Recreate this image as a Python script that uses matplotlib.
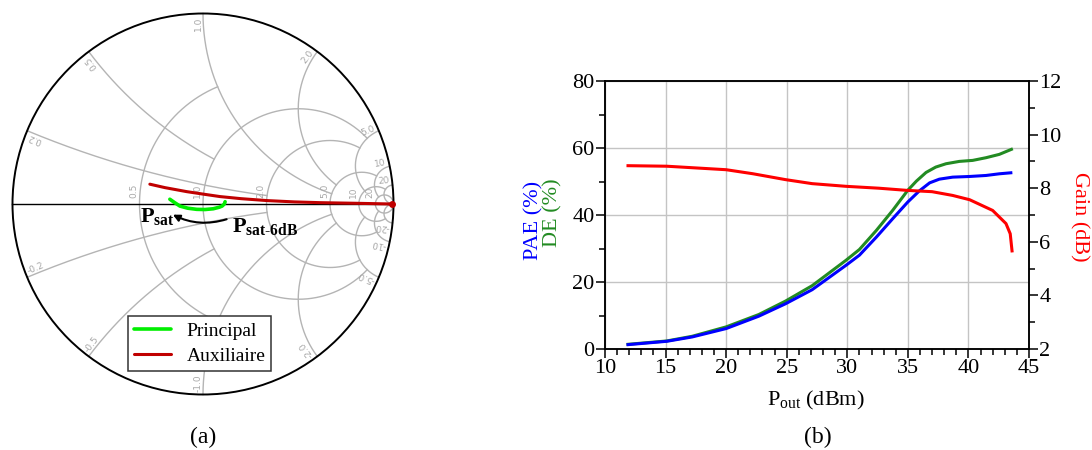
import numpy as np
import matplotlib.pyplot as plt
from matplotlib.patches import Circle, FancyArrowPatch
from matplotlib.ticker import MultipleLocator

plt.rcParams['font.family'] = ['Liberation Serif', 'DejaVu Serif']
plt.rcParams['mathtext.fontset'] = 'custom'
plt.rcParams['mathtext.rm'] = 'Liberation Serif'
plt.rcParams['mathtext.bf'] = 'Liberation Serif:bold'
plt.rcParams['mathtext.it'] = 'Liberation Serif:italic'

# ---- (b) power sweep ----
pout_gain = [11.9, 15.1, 20.0, 22.2, 24.9, 27.1, 29.9, 32.6, 34.9, 37.0,
             38.7, 40.1, 42.0, 43.1, 43.45, 43.6]
gain = [8.84, 8.82, 8.69, 8.54, 8.32, 8.17, 8.07, 8.00, 7.92, 7.87,
        7.73, 7.57, 7.17, 6.68, 6.30, 5.66]

pout_de = [11.9, 15.1, 17.2, 20.0, 22.7, 24.9, 27.1, 29.9, 31.0, 32.4,
           33.75, 35.0, 35.7, 36.5, 37.3, 38.15, 39.25, 40.35, 41.45, 42.55, 43.55]
de = [1.4, 2.4, 3.8, 6.6, 10.3, 14.3, 18.9, 26.5, 29.7, 35.4,
      41.4, 47.4, 50.1, 52.7, 54.3, 55.3, 56.0, 56.3, 57.1, 58.1, 59.6]

pout_pae = [11.9, 15.1, 17.2, 20.0, 22.7, 24.9, 27.1, 29.9, 31.0, 32.4,
            33.75, 35.0, 35.95, 36.8, 37.6, 38.7, 40.1, 41.45, 42.55, 43.5]
pae = [1.3, 2.3, 3.6, 6.1, 9.8, 13.5, 17.7, 25.0, 28.0, 33.4,
       38.9, 43.9, 47.2, 49.6, 50.7, 51.3, 51.5, 51.8, 52.3, 52.6]

# ---- (a) load trajectories (reflection coefficient) ----
principal_re = [-0.174, -0.150, -0.121, -0.080, -0.033, 0.010, 0.054, 0.085, 0.100, 0.112, 0.116]
principal_im = [0.025, 0.008, -0.011, -0.022, -0.028, -0.029, -0.025, -0.017, -0.011, 0.000, 0.012]
aux_re = [-0.279, -0.200, -0.086, 0.000, 0.089, 0.200, 0.335, 0.480, 0.616, 0.790, 0.993]
aux_im = [0.104, 0.086, 0.065, 0.052, 0.039, 0.028, 0.018, 0.011, 0.007, 0.004, 0.000]

res_circles = [0.5, 1.0, 2.0, 5.0, 10, 20]
res_limits = [1, 5, 5, 10, 20, np.inf]
res_labels = ['0.5', '1.0', '2.0', '5.0', '10', '20']
reac_arcs = [0.2, 0.5, 1.0, 2.0, 5.0, 10, 20]
reac_limits = [2, 1, 5, 5, 10, 20, np.inf]
reac_labels = ['0.2', '0.5', '1.0', '2.0', '5.0', '10', '20']

GRID = '#b4b4b4'


def gamma(z):
    return (z - 1) / (z + 1)


fig = plt.figure(figsize=(10.92, 4.5), dpi=100)

# ================= Smith chart =================
sax = fig.add_axes([8 / 1092, 1 - 399 / 450, 390 / 1092, 390 / 450])
lim = 195 / 190.5
sax.set_xlim(-lim, lim)
sax.set_ylim(-lim, lim)
sax.axis('off')

for r, xm in zip(res_circles, res_limits):
    umax = np.arctan(xm / (r + 1)) if np.isfinite(xm) else np.pi / 2 - 1e-4
    u = np.linspace(-umax, umax, 800)
    g = gamma(r + 1j * (r + 1) * np.tan(u))
    sax.plot(g.real, g.imag, color=GRID, lw=1.0, zorder=1)

for x, rm in zip(reac_arcs, reac_limits):
    k = abs(x) + 1
    umax = np.arctan(rm / k) if np.isfinite(rm) else np.pi / 2 - 1e-4
    u = np.linspace(0, umax, 800)
    for s in (1, -1):
        g = gamma(k * np.tan(u) + 1j * s * x)
        sax.plot(g.real, g.imag, color=GRID, lw=1.0, zorder=1)

for r, lab in zip(res_circles, res_labels):
    gx = gamma(r)
    sax.text(gx - 0.006, 0.03, lab, rotation=90, rotation_mode='anchor',
             ha='left', va='bottom', fontsize=6.5, color='#a8a8a8',
             family='DejaVu Sans')

for x, lab in zip(reac_arcs, reac_labels):
    for s in (1, -1):
        g = gamma(1j * s * x)
        th = np.degrees(np.arctan2(g.imag, g.real))
        rot = th % 180
        p = 0.985 * g
        sax.text(p.real, p.imag, lab if s > 0 else '-' + lab, rotation=rot,
                 rotation_mode='anchor', ha='right' if s > 0 else 'left',
                 va='bottom', fontsize=6.5, color='#a8a8a8', family='DejaVu Sans')

sax.add_patch(Circle((0, 0), 1, fill=False, ec='black', lw=1.4, zorder=3))
sax.plot([-1, 1], [0, 0], color='black', lw=1.0, zorder=2)

sax.plot(principal_re, principal_im, color='#00ee00', lw=2.6, zorder=4,
         solid_capstyle='round', label='Principal')
sax.plot(aux_re, aux_im, color='#c00000', lw=2.2, zorder=4,
         solid_capstyle='round', label='Auxiliaire')
sax.plot(aux_re[-1], aux_im[-1], 'o', color='#c00000', ms=4, zorder=5)

sax.add_patch(FancyArrowPatch((0.124, -0.080), (-0.158, -0.056),
                              connectionstyle='arc3,rad=-0.2',
                              arrowstyle='-|>', mutation_scale=10,
                              color='black', lw=1.5, zorder=5,
                              shrinkA=0, shrinkB=0))
sax.text(-0.333, -0.097, r'$\mathbf{P}_{\mathbf{sat}}$', fontsize=16,
         ha='left', va='baseline', zorder=6)
sax.text(0.150, -0.148, r'$\mathbf{P}_{\mathbf{sat\text{-}6dB}}$', fontsize=16,
         ha='left', va='baseline', zorder=6)

leg = sax.legend(loc='lower left', bbox_to_anchor=(120 / 390, 28 / 390),
                 borderaxespad=0, fontsize=14, frameon=True, fancybox=False,
                 handlelength=1.9, borderpad=0.3, labelspacing=0.4,
                 handletextpad=0.8)
leg.get_frame().set_edgecolor('#333333')
leg.get_frame().set_linewidth(1.1)
leg.get_frame().set_alpha(1)

# ================= Power sweep =================
ax = fig.add_axes([605 / 1092, 1 - 349 / 450, 424 / 1092, 268 / 450])
ax2 = ax.twinx()

ax.plot(pout_de, de, color='#228b22', lw=2.2, zorder=3)
ax.plot(pout_pae, pae, color='#0000ff', lw=2.2, zorder=4)
ax2.plot(pout_gain, gain, color='#ff0000', lw=2.2)

ax.set_xlim(10, 45)
ax.set_ylim(0, 80)
ax2.set_ylim(2, 12)
ax.xaxis.set_major_locator(MultipleLocator(5))
ax.xaxis.set_minor_locator(MultipleLocator(1))
ax.yaxis.set_major_locator(MultipleLocator(20))
ax.yaxis.set_minor_locator(MultipleLocator(10))
ax2.yaxis.set_major_locator(MultipleLocator(2))
ax2.yaxis.set_minor_locator(MultipleLocator(1))

ax.grid(True, which='major', color='#c4c4c4', lw=1.0)
ax.set_axisbelow(True)
for a in (ax, ax2):
    a.tick_params(which='major', direction='out', length=6.5, width=1.1,
                  labelsize=16, pad=1)
    a.tick_params(which='minor', direction='out', length=4.3, width=1.1)
    for sp in a.spines.values():
        sp.set_linewidth(1.1)

fig.text(816 / 1092, 1 - 400 / 450, r'P$_{\rm out}$ (dBm)', fontsize=16,
         ha='center', va='center')
fig.text(534 / 1092, 1 - 220 / 450, 'PAE (%)', color='#0000ff', fontsize=16,
         rotation=90, ha='center', va='center')
fig.text(553 / 1092, 1 - 213 / 450, 'DE (%)', color='#228b22', fontsize=16,
         rotation=90, ha='center', va='center')
fig.text(1079 / 1092, 1 - 217 / 450, 'Gain (dB)', color='#ff0000', fontsize=16,
         rotation=-90, ha='center', va='center')

fig.text(203 / 1092, 1 - 437 / 450, '(a)', fontsize=17, ha='center', va='center')
fig.text(818 / 1092, 1 - 437 / 450, '(b)', fontsize=17, ha='center', va='center')

fig.savefig('out.png', dpi=100)
